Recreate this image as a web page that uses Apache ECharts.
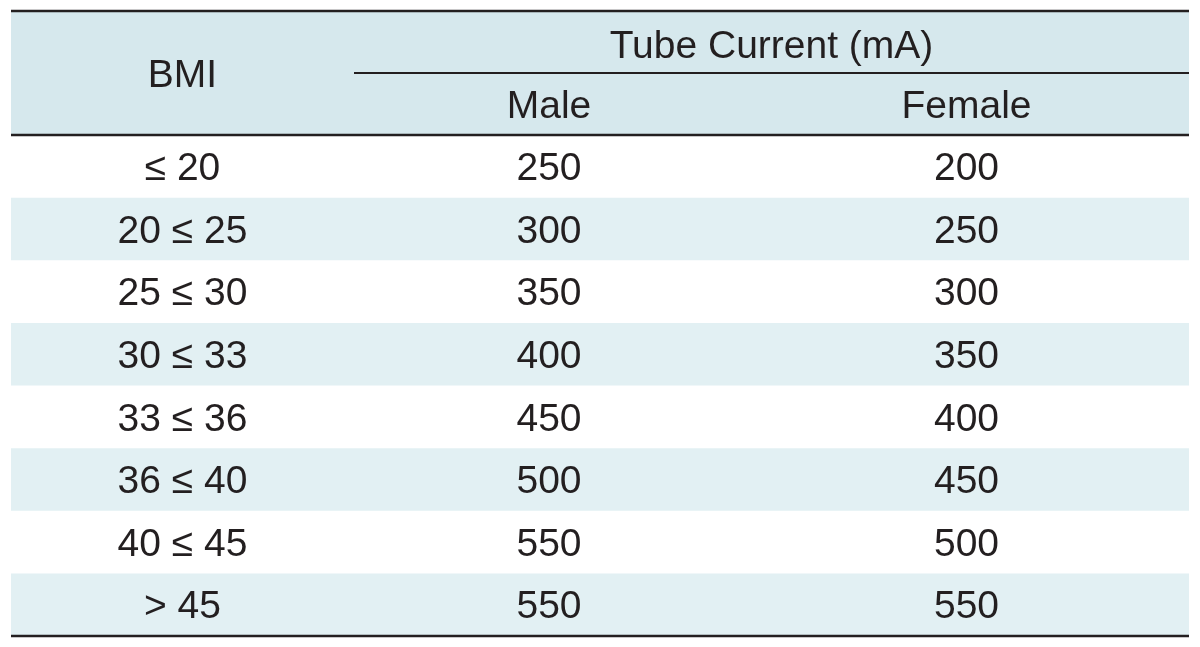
<!DOCTYPE html>
<html><head><meta charset="utf-8">
<script src="https://cdn.jsdelivr.net/npm/echarts@6/dist/echarts.min.js"></script>
<style>html,body{margin:0;padding:0;background:#fff}#c{width:1200px;height:647px}</style>
</head><body><div id="c"></div>
<script>
const bmiCategories = ['≤ 20','20 ≤ 25','25 ≤ 30','30 ≤ 33','33 ≤ 36','36 ≤ 40','40 ≤ 45','> 45'];
const maleCurrent = [250,300,350,400,450,500,550,550];
const femaleCurrent = [200,250,300,350,400,450,500,550];
const headerGroup = 'Tube Current (mA)';
const headerCols = ['BMI','Male','Female'];

const L = 11, R = 1189, TOP = 11, HEAD_BOT = 135, BOT = 636, MID = 73;
const colEdges = [0, 343, 733, 1178];
const FONT = 'Liberation Sans';
const FS = 39;
const DY = 3;
const TXT = '#231f20';
const HEAD_BG = '#d6e8ed';
const STRIPE = '#e2f0f3';

const chart = echarts.init(document.getElementById('c'));
const data = bmiCategories.map((b,i)=>[i,b,maleCurrent[i],femaleCurrent[i]]);

function renderItem(params, api){
  const i = api.value(0);
  const yc = api.coord([0, i])[1];
  const h = api.size([0,1])[1];
  const x0 = api.coord([colEdges[0], i])[0];
  const x3 = api.coord([colEdges[3], i])[0];
  const children = [];
  if (i % 2 === 1) {
    children.push({type:'rect', shape:{x:x0, y:yc-h/2, width:x3-x0, height:h}, style:{fill:STRIPE}});
  }
  const vals = [bmiCategories[i], maleCurrent[i], femaleCurrent[i]];
  for (let c=0;c<3;c++){
    const xc = api.coord([(colEdges[c]+colEdges[c+1])/2, i])[0];
    children.push({type:'text', x:xc, y:yc+DY, style:{text:String(vals[c]), fill:TXT, font:FS+'px "'+FONT+'"', align:'center', verticalAlign:'middle'}});
  }
  return {type:'group', children};
}

const line = (x1,y1,x2,y2,w)=>({type:'line', shape:{x1,y1,x2,y2}, style:{stroke:TXT, lineWidth:w}, z:10});
const htext = (t,x,y)=>({type:'text', x, y:y+DY, style:{text:t, fill:TXT, font:FS+'px "'+FONT+'"', align:'center', verticalAlign:'middle'}, z:10});
const colCenter = c => L + (colEdges[c]+colEdges[c+1])/2;

chart.setOption({
  animation:false,
  grid:{left:L, right:1200-R, top:HEAD_BOT, bottom:647-BOT},
  xAxis:{type:'value', min:colEdges[0], max:colEdges[3], show:false},
  yAxis:{type:'category', data:bmiCategories, inverse:true, show:false},
  series:[{type:'custom', renderItem, data, encode:{x:-1,y:0}}],
  graphic:[
    {type:'rect', shape:{x:L, y:TOP, width:R-L, height:HEAD_BOT-TOP}, style:{fill:HEAD_BG}, z:5},
    line(L,TOP,R,TOP,2.5),
    line(L+colEdges[1],MID,R,MID,2),
    line(L,HEAD_BOT,R,HEAD_BOT,2.5),
    line(L,BOT,R,BOT,2.5),
    htext(headerCols[0], colCenter(0), (TOP+HEAD_BOT)/2),
    htext(headerGroup, (L+colEdges[1]+R)/2, 44),
    htext(headerCols[1], colCenter(1), 104),
    htext(headerCols[2], colCenter(2), 104)
  ]
});
</script></body></html>
